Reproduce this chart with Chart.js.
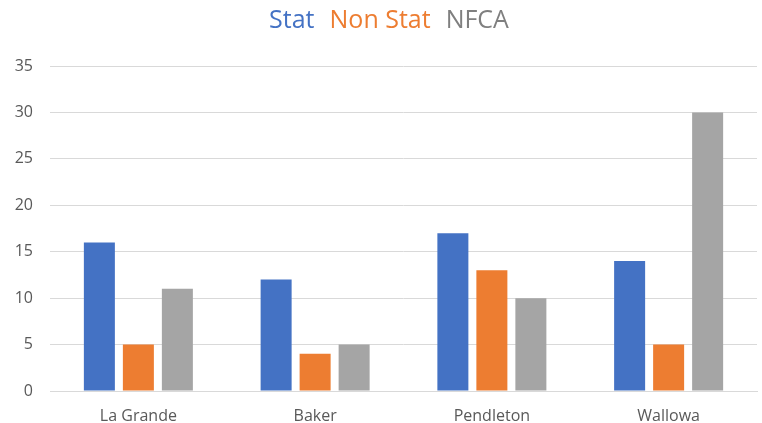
<!DOCTYPE html>
<html>
<head>
<meta charset="utf-8">
<script src="https://cdn.jsdelivr.net/npm/chart.js@4/dist/chart.umd.min.js"></script>
<style>
  html, body { margin: 0; padding: 0; background: #fff; }
  #wrap { width: 762px; height: 423px; position: relative; }
</style>
</head>
<body>
<div id="wrap"><canvas id="chart"></canvas></div>
<script>
var categories = ["La Grande", "Baker", "Pendleton", "Wallowa"];
var statValues = [16, 12, 17, 14];
var nonStatValues = [5, 4, 13, 5];
var nfcaValues = [11, 5, 10, 30];
var yTicks = [0, 5, 10, 15, 20, 25, 30, 35];

var seriesNames = ["Stat", "Non Stat", "NFCA"];
var seriesColors = ["#4472C4", "#ED7D31", "#A5A5A5"];
var titleColors = ["#4472C4", "#ED7D31", "#7F7F7F"];

// colored title line, drawn like the original "Stat Non Stat NFCA" heading
var headingPlugin = {
    id: "heading",
    afterDraw: function (chart) {
        var ctx = chart.ctx;
        ctx.save();
        ctx.font = "25px 'Open Sans', sans-serif";
        ctx.textBaseline = "middle";
        var gap = 15;
        var widths = seriesNames.map(function (n) { return ctx.measureText(n).width; });
        var total = widths.reduce(function (a, b) { return a + b; }, 0) + gap * (seriesNames.length - 1);
        var x = 389 - total / 2;
        for (var i = 0; i < seriesNames.length; i++) {
            ctx.fillStyle = titleColors[i];
            ctx.fillText(seriesNames[i], x, 21);
            x += widths[i] + gap;
        }
        ctx.restore();
    }
};

var ctx = document.getElementById("chart").getContext("2d");
new Chart(ctx, {
    type: "bar",
    data: {
        labels: categories,
        datasets: [
            { label: seriesNames[0], data: statValues, backgroundColor: seriesColors[0] },
            { label: seriesNames[1], data: nonStatValues, backgroundColor: seriesColors[1] },
            { label: seriesNames[2], data: nfcaValues, backgroundColor: seriesColors[2] }
        ]
    },
    options: {
        responsive: true,
        maintainAspectRatio: false,
        animation: false,
        categoryPercentage: 0.662,
        barPercentage: 0.795,
        layout: { padding: { top: 66, right: 5, left: 0, bottom: 0 } },
        scales: {
            y: {
                min: 0,
                max: 35,
                afterFit: function (s) { s.width = 50; },
                afterBuildTicks: function (s) {
                    s.ticks = yTicks.map(function (v) { return { value: v }; });
                },
                border: { display: false },
                grid: { color: "#D9D9D9", lineWidth: 1, drawTicks: false },
                ticks: {
                    padding: 17,
                    font: { family: "'Open Sans', sans-serif", size: 16 },
                    color: "#595959"
                }
            },
            x: {
                afterFit: function (s) { s.height = 32; },
                border: { color: "#D9D9D9" },
                grid: { display: false, drawTicks: false },
                ticks: {
                    padding: 16,
                    font: { family: "'Open Sans', sans-serif", size: 16 },
                    color: "#595959"
                }
            }
        },
        plugins: {
            legend: { display: false },
            tooltip: { enabled: false }
        }
    },
    plugins: [headingPlugin]
});
</script>
</body>
</html>
